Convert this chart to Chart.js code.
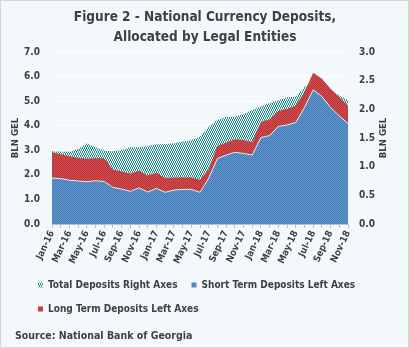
<!DOCTYPE html>
<html>
<head>
<meta charset="utf-8">
<script src="https://cdn.jsdelivr.net/npm/chart.js@4.4.1/dist/chart.umd.min.js"></script>
<style>
    html, body { margin: 0; padding: 0; background: #ffffff; }
    #wrap { width: 407px; height: 346px; border: 1px solid #d6d6d6; background: #f3f8fb; }
    canvas { display: block; }
</style>
</head>
<body>
<div id="wrap"><canvas id="chart" width="407" height="346"></canvas></div>
<script>
const months = ['Jan-16', 'Feb-16', 'Mar-16', 'Apr-16', 'May-16', 'Jun-16', 'Jul-16', 'Aug-16', 'Sep-16', 'Oct-16', 'Nov-16', 'Dec-16',
    'Jan-17', 'Feb-17', 'Mar-17', 'Apr-17', 'May-17', 'Jun-17', 'Jul-17', 'Aug-17', 'Sep-17', 'Oct-17', 'Nov-17', 'Dec-17',
    'Jan-18', 'Feb-18', 'Mar-18', 'Apr-18', 'May-18', 'Jun-18', 'Jul-18', 'Aug-18', 'Sep-18', 'Oct-18', 'Nov-18'];

// bln GEL, left axis (stacked: short + long)
const shortTerm = [1.87, 1.85, 1.78, 1.75, 1.72, 1.76, 1.73, 1.49, 1.42, 1.33, 1.47, 1.30,
    1.45, 1.29, 1.38, 1.41, 1.41, 1.29, 1.86, 2.67, 2.80, 2.92, 2.87, 2.81,
    3.52, 3.60, 3.97, 4.03, 4.13, 4.74, 5.46, 5.19, 4.74, 4.40, 4.09];
const longTerm = [1.05, 0.99, 0.98, 0.94, 0.94, 0.92, 0.95, 0.72, 0.72, 0.72, 0.70, 0.67,
    0.64, 0.57, 0.51, 0.48, 0.48, 0.51, 0.36, 0.50, 0.51, 0.53, 0.55, 0.52,
    0.63, 0.65, 0.63, 0.65, 0.68, 0.62, 0.70, 0.72, 0.76, 0.76, 0.72];
// bln GEL, right axis
const totalDeposits = [1.27, 1.26, 1.26, 1.31, 1.41, 1.34, 1.28, 1.27, 1.29, 1.34, 1.34, 1.36,
    1.39, 1.39, 1.41, 1.44, 1.46, 1.52, 1.69, 1.81, 1.87, 1.87, 1.92, 1.99,
    2.05, 2.11, 2.16, 2.21, 2.22, 2.39, 2.50, 2.45, 2.33, 2.24, 2.16];

const FONT = "'DejaVu Sans Condensed', sans-serif";
const TEXT = '#404040';

// small tiled fill: base colour plus dots at the given cells
function dotted(w, h, base, dot, cells) {
    const c = document.createElement('canvas');
    c.width = w;
    c.height = h;
    const g = c.getContext('2d');
    g.fillStyle = base;
    g.fillRect(0, 0, w, h);
    g.fillStyle = dot;
    cells.forEach(([x, y]) => g.fillRect(x, y, 1, 1));
    return g.createPattern(c, 'repeat');
}

const extraText = {
    id: 'extraText',
    afterDraw(chart) {
        const { ctx, chartArea } = chart;
        const midY = (chartArea.top + chartArea.bottom) / 2;
        ctx.save();
        ctx.fillStyle = TEXT;
        ctx.font = 'bold 9.5px ' + FONT;
        ctx.textAlign = 'center';
        ctx.textBaseline = 'middle';
        [15, 383].forEach(x => {
            ctx.save();
            ctx.translate(x, midY);
            ctx.rotate(-Math.PI / 2);
            ctx.fillText('BLN GEL', 0, 0);
            ctx.restore();
        });
        ctx.font = 'bold 10.5px ' + FONT;
        ctx.textAlign = 'left';
        ctx.fillText('Source: National Bank of Georgia', 14, 335);
        ctx.restore();
    }
};

const legendRank = { 2: 0, 0: 1, 1: 2 };

new Chart(document.getElementById('chart'), {
    type: 'line',
    data: {
        labels: months,
        datasets: [{
            label: 'Short Term Deposits Left Axes',
            data: shortTerm,
            yAxisID: 'y',
            order: 0,
            fill: 'origin',
            backgroundColor: dotted(2, 2, '#6199d0', '#4478b2', [[0, 0], [1, 1]]),
            borderColor: '#e3e9ef',
            borderWidth: 1,
        }, {
            label: 'Long Term Deposits Left Axes',
            data: longTerm,
            yAxisID: 'y',
            order: 1,
            fill: '-1',
            backgroundColor: dotted(2, 2, '#d84a4c', '#b3363a', [[0, 0], [1, 1]]),
            borderWidth: 0,
        }, {
            label: 'Total Deposits Right Axes',
            data: totalDeposits,
            yAxisID: 'y1',
            order: 2,
            fill: 'origin',
            backgroundColor: dotted(2, 4, '#f8fbfc', '#1f8a8a', [[0, 0], [0, 1], [1, 2], [1, 3]]),
            borderWidth: 0,
        }]
    },
    options: {
        responsive: false,
        animation: false,
        layout: { padding: { left: 23, right: 22, top: 0, bottom: 23 } },
        elements: {
            point: { radius: 0 },
            line: { tension: 0 }
        },
        scales: {
            x: {
                afterFit: s => { s.height = 42; },
                grid: { drawOnChartArea: false, color: '#bfbfbf', tickLength: 4 },
                border: { color: '#bfbfbf' },
                ticks: {
                    autoSkip: false,
                    minRotation: 65,
                    maxRotation: 65,
                    padding: 1,
                    color: TEXT,
                    font: { family: FONT, size: 9.5, weight: 'bold' },
                    callback: (v, i) => i % 2 === 0 ? months[i] : ''
                }
            },
            y: {
                stacked: true,
                min: 0,
                max: 7,
                afterFit: s => { s.width = 28; },
                grid: { color: '#ffffff', drawTicks: false },
                border: { display: false },
                ticks: {
                    stepSize: 1,
                    padding: 12,
                    color: TEXT,
                    font: { family: FONT, size: 10, weight: 'bold' },
                    callback: v => v.toFixed(1)
                }
            },
            y1: {
                position: 'right',
                min: 0,
                max: 3,
                afterFit: s => { s.width = 38; },
                grid: { drawOnChartArea: false, drawTicks: false },
                border: { display: false },
                ticks: {
                    stepSize: 0.5,
                    padding: 11,
                    color: TEXT,
                    font: { family: FONT, size: 10, weight: 'bold' },
                    callback: v => v.toFixed(1)
                }
            }
        },
        plugins: {
            tooltip: { enabled: false },
            title: {
                display: true,
                text: ['Figure 2 - National Currency Deposits,', 'Allocated by Legal Entities'],
                color: TEXT,
                font: { family: FONT, size: 13.5, weight: 'bold', lineHeight: '20px' },
                padding: { top: 6, bottom: 5 }
            },
            legend: {
                position: 'bottom',
                align: 'start',
                labels: {
                    boxWidth: 5,
                    boxHeight: 5,
                    padding: 14,
                    color: TEXT,
                    font: { family: FONT, size: 10, weight: 'bold' },
                    sort: (a, b) => legendRank[a.datasetIndex] - legendRank[b.datasetIndex],
                    generateLabels: chart => Chart.defaults.plugins.legend.labels.generateLabels(chart)
                        .map(item => Object.assign(item, { lineWidth: 0 }))
                }
            }
        }
    },
    plugins: [extraText]
});
</script>
</body>
</html>
